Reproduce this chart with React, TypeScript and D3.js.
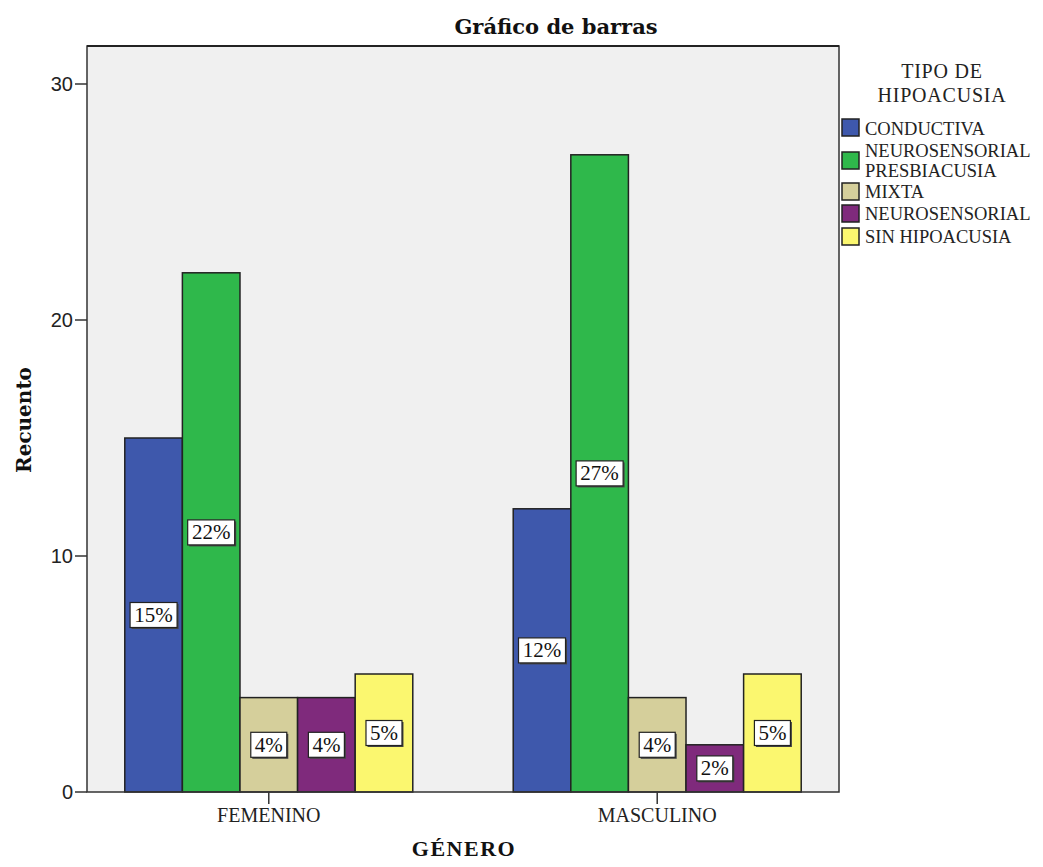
import React from "react";
import * as d3 from "d3";

const categories = ["FEMENINO", "MASCULINO"];
const seriesNames = ["CONDUCTIVA", "NEUROSENSORIAL PRESBIACUSIA", "MIXTA", "NEUROSENSORIAL", "SIN HIPOACUSIA"];
const legendLines = [["CONDUCTIVA"], ["NEUROSENSORIAL", "PRESBIACUSIA"], ["MIXTA"], ["NEUROSENSORIAL"], ["SIN HIPOACUSIA"]];
const seriesColors = ["#3e58ac", "#2fb84b", "#d5cf9b", "#7f2a7c", "#fbf76f"];
const femenino = [15, 22, 4, 4, 5];
const masculino = [12, 27, 4, 2, 5];
const pctLabels = [["15%", "22%", "4%", "4%", "5%"], ["12%", "27%", "4%", "2%", "5%"]];
const yTicks = [0, 10, 20, 30];

const values = [femenino, masculino];

const W = 1043, H = 867;
const left = 87, right = 839, top = 46, bottom = 792;

export default function App() {
  const y = d3.scaleLinear().domain([0, 30]).range([bottom, 84]);
  const x = d3.scalePoint<string>().domain(categories).range([left, right]).padding(0.468);
  const inner = d3.scaleBand<number>().domain(d3.range(seriesNames.length)).range([-144, 144]).padding(0);
  const serif = "'Liberation Serif', 'Times New Roman', serif";
  const dserif = "'DejaVu Serif', serif";
  const legendTops = [119, 152, 183, 205, 228];
  const legendBase = [135, 157, 198, 220, 243];
  return (
    <div style={{ margin: -8 }}>
      <svg width={W} height={H} style={{ display: "block", background: "#fff" }}>
        <rect x={left} y={top} width={right - left} height={bottom - top} fill="#f0f0f0" />
        {categories.map((c, ci) =>
          values[ci].map((v, si) => {
            const bx = (x(c) as number) + (inner(si) as number);
            const by = y(v);
            const bw = inner.bandwidth();
            return (
              <rect key={c + si} x={bx} y={by} width={bw} height={bottom - by} fill={seriesColors[si]} stroke="#222" strokeWidth={1.5} />
            );
          })
        )}
        {categories.map((c, ci) =>
          values[ci].map((v, si) => {
            const cx = (x(c) as number) + (inner(si) as number) + inner.bandwidth() / 2;
            const cy = (y(v) + bottom) / 2;
            const t = pctLabels[ci][si];
            const bw = t.length === 3 ? 47 : 36;
            return (
              <g key={"l" + c + si}>
                <rect x={cx - bw / 2 + 1.5} y={cy - 11} width={bw} height={25} fill="#444" />
                <rect x={cx - bw / 2} y={cy - 12.5} width={bw} height={25} fill="#fff" stroke="#222" strokeWidth={1.2} />
                <text x={cx} y={cy + 7} textAnchor="middle" fontFamily={serif} fontSize={21} fill="#111">{t}</text>
              </g>
            );
          })
        )}
        {/* frame */}
        <rect x={left} y={top} width={right - left} height={bottom - top} fill="none" stroke="#333" strokeWidth={1.5} />
        <line x1={left} x2={right} y1={top} y2={top} stroke="#222" strokeWidth={2} />
        {/* y axis */}
        {yTicks.map((t) => (
          <g key={"yt" + t}>
            <line x1={left - 12} x2={left} y1={y(t)} y2={y(t)} stroke="#333" strokeWidth={1.5} />
            <text x={left - 14} y={y(t) + 7} textAnchor="end" fontFamily="'Liberation Sans', Arial, sans-serif" fontSize={20} fill="#222">{t}</text>
          </g>
        ))}
        {/* x axis ticks */}
        {categories.map((c) => (
          <g key={"xt" + c}>
            <line x1={x(c)} x2={x(c)} y1={bottom} y2={bottom + 12} stroke="#333" strokeWidth={1.5} />
            <text x={x(c)} y={bottom + 30} textAnchor="middle" fontFamily={serif} fontSize={20} fill="#222">{c}</text>
          </g>
        ))}
        <text x={556} y={34} textAnchor="middle" fontFamily={dserif} fontWeight="bold" fontSize={21} fill="#111">Gráfico de barras</text>
        <text x={464} y={856} textAnchor="middle" fontFamily={serif} fontWeight="bold" fontSize={22} letterSpacing={1.5} fill="#111">GÉNERO</text>
        <text transform="translate(31, 420) rotate(-90)" textAnchor="middle" fontFamily={dserif} fontWeight="bold" fontSize={20} fill="#111">Recuento</text>
        {/* legend */}
        <text x={942} y={78} textAnchor="middle" fontFamily={serif} fontSize={20} letterSpacing={0.8} fill="#222">TIPO DE</text>
        <text x={942} y={102} textAnchor="middle" fontFamily={serif} fontSize={20} letterSpacing={0.8} fill="#222">HIPOACUSIA</text>
        {seriesNames.map((s, i) => {
          const lines = legendLines[i];
          return (
            <g key={"lg" + s}>
              <rect x={842} y={legendTops[i]} width={17} height={17} fill={seriesColors[i]} stroke="#222" strokeWidth={1.5} />
              {lines.map((ln, li) => (
                <text key={ln} x={865} y={legendBase[i] + li * 20} fontFamily={serif} fontSize={18.5} fill="#222">{ln}</text>
              ))}
            </g>
          );
        })}
      </svg>
    </div>
  );
}
